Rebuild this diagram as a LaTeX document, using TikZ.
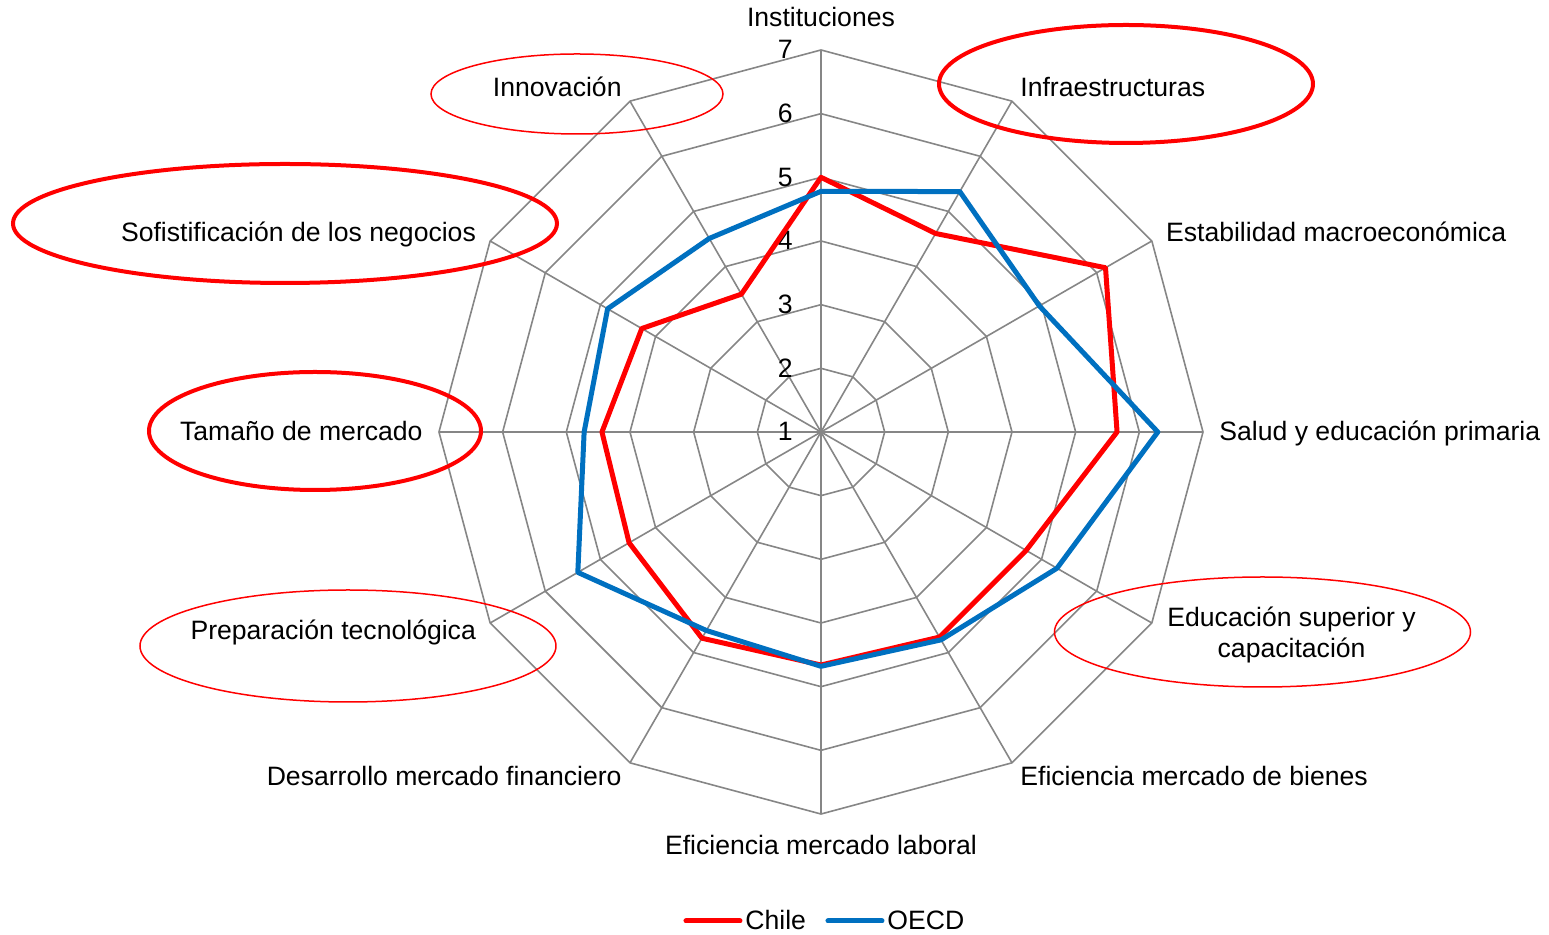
\documentclass[tikz,border=0pt]{standalone}
\usepackage{fontspec}
\setmainfont{Liberation Sans}
\usepackage{tikz}
\usetikzlibrary{positioning}
\definecolor{chilered}{RGB}{255,0,0}
\definecolor{oecdblue}{RGB}{0,112,192}
\definecolor{gridgray}{RGB}{134,134,134}
\newcommand{\ringgap}{63.67}

\begin{document}
\begin{tikzpicture}[x=0.5pt, y=0.5pt, font=\fontsize{13.3}{15.5}\selectfont,
   gridline/.style={draw=gridgray, line width=0.8pt},
   chile/.style={draw=chilered, line width=2.5pt, line join=round},
   oecd/.style={draw=oecdblue, line width=2.5pt, line join=round},
   bigring/.style={draw=chilered, line width=2pt},
   thinring/.style={draw=chilered, line width=0.75pt}]
   \useasboundingbox (-821,-503) rectangle (728,432);
   \coordinate (o) at (0,0);
   % web
   \foreach \r in {1,...,6}
     \draw[gridline] (90:{\r*\ringgap}) \foreach \a in {1,...,11} {-- ({90-30*\a}:{\r*\ringgap})} -- cycle;
   \foreach \a in {0,...,11} {
     \coordinate (tip\a) at ({90-30*\a}:{6*\ringgap});
     \draw[gridline] (o) -- (tip\a);
   }
   % scale
   \foreach \v in {1,...,7}
     \node[anchor=east, inner sep=0pt, text height=0.88em, text depth=0pt] (tick\v) at (-28,{(\v-1)*\ringgap}) {\v};
   % series
   \foreach \v [count=\i from 0] in {5.0,4.6,6.16,5.65,4.72,4.72,4.66,4.74,4.48,4.44,4.25,3.5}
     \coordinate (ch\i) at ({90-30*\i}:{(\v-1)*\ringgap});
   \foreach \v [count=\i from 0] in {4.78,5.36,4.96,6.29,5.28,4.77,4.68,4.6,5.41,4.72,4.87,4.51}
     \coordinate (oe\i) at ({90-30*\i}:{(\v-1)*\ringgap});
   \draw[chile] (ch0) -- (ch1) -- (ch2) -- (ch3) -- (ch4) -- (ch5) -- (ch6)
      -- (ch7) -- (ch8) -- (ch9) -- (ch10) -- (ch11) -- cycle;
   \draw[oecd] (oe0) -- (oe1) -- (oe2) -- (oe3) -- (oe4) -- (oe5) -- (oe6)
      -- (oe7) -- (oe8) -- (oe9) -- (oe10) -- (oe11) -- cycle;
   % marks
   \draw[thinring] (-244,338) ellipse [x radius=146, y radius=40];
   \draw[bigring] (305,348) ellipse [x radius=187, y radius=59];
   \draw[bigring] (-536,208.5) ellipse [x radius=272, y radius=59.5];
   \draw[bigring] (-506,1) ellipse [x radius=166, y radius=59];
   \draw[thinring] (-473,-214) ellipse [x radius=208, y radius=56];
   \draw[thinring] (441.5,-200) ellipse [x radius=208, y radius=55];
   \begin{scope}[every node/.style={inner sep=0pt, text height=0.88em, text depth=0pt}]
    \node (inst) at (0,414) {Instituciones};
    \node[anchor=west] (infra) at (60:398) {Infraestructuras};
    \node[anchor=west] (estab) at (30:398) {Estabilidad macroeconómica};
    \node[anchor=west] (salud) at (0:398) {Salud y educación primaria};
    \node[anchor=west] (bienes) at (-60:398) {Eficiencia mercado de bienes};
    \node (laboral) at (0,-414) {Eficiencia mercado laboral};
    \node[anchor=east] (financ) at (-120:398) {Desarrollo mercado financiero};
    \node[anchor=east] (tecno) at (-150:398) {Preparación tecnológica};
    \node[anchor=east] (tamano) at (180:398) {Tamaño de mercado};
    \node[anchor=east] (sofis) at (150:398) {Sofistificación de los negocios};
    \node[anchor=east] (innov) at (120:398) {Innovación};
    % legend
    \node[anchor=west] (chilekey) at (-76,-489) {Chile};
    \node[anchor=west] (oecdkey) at (66,-489) {OECD};
   \end{scope}
   \node[anchor=west, align=center, inner sep=0pt] (educ) at (346,-203) {Educación superior y\\capacitación};
   \coordinate (chA) at (-135,-489);
   \coordinate (oeA) at (7,-489);
   \draw[chile, line cap=round] (chA) -- ([xshift=-2.5pt]chilekey.west);
   \draw[oecd, line cap=round] (oeA) -- ([xshift=-2.5pt]oecdkey.west);
\end{tikzpicture}
\end{document}
